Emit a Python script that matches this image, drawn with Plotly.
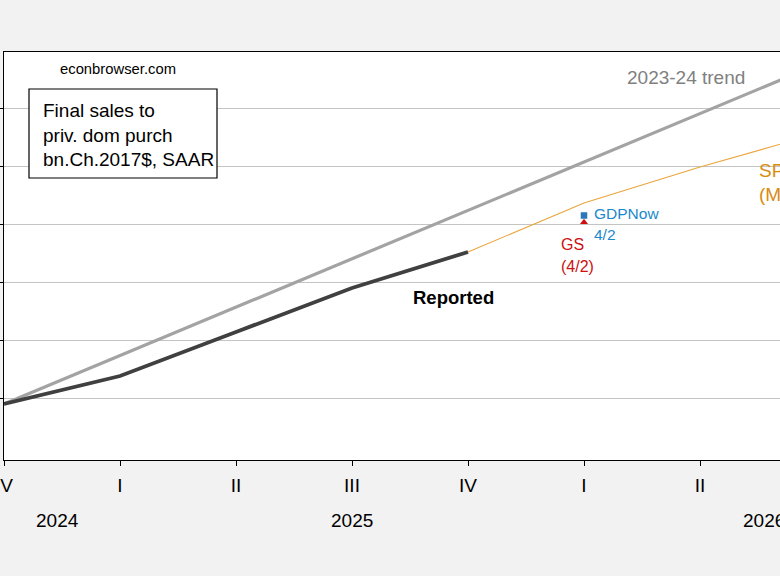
import plotly.graph_objects as go

# ---- data (bn. Ch.2017$, SAAR) ----
quarters = ["2024Q4", "2025Q1", "2025Q2", "2025Q3", "2025Q4", "2026Q1", "2026Q2", "2026Q3"]
tick_labels = ["IV", "I", "II", "III", "IV", "I", "II", "III"]
year_labels = ["2024", "2025", "2026"]
year_label_pos = [0.457, 3.0, 6.55]

reported_q = ["2024Q4", "2025Q1", "2025Q2", "2025Q3", "2025Q4"]
reported = [19790.5, 19838.8, 19914.7, 19990.5, 20052.6]

trend_q = quarters
trend = [19790.5, 19874.0, 19957.4, 20040.9, 20124.3, 20207.8, 20291.2, 20374.7]

spf_q = ["2025Q4", "2026Q1", "2026Q2", "2026Q3"]
spf = [20052.6, 20137.1, 20199.1, 20256.0]

gdpnow_q = ["2026Q1"]
gdpnow = [20115.5]
gs_q = ["2026Q1"]
gs = [20104.0]

y_grid = [19800, 19900, 20000, 20100, 20200, 20300]

idx = {q: i for i, q in enumerate(quarters)}
FONT = "Liberation Sans, Arial, sans-serif"

fig = go.Figure()
fig.add_trace(go.Scatter(x=[idx[q] for q in trend_q], y=trend, mode="lines",
                         line=dict(color="#a3a3a3", width=3.2), hoverinfo="skip"))
fig.add_trace(go.Scatter(x=[idx[q] for q in spf_q], y=spf, mode="lines",
                         line=dict(color="#eaa53c", width=1.1), hoverinfo="skip"))
fig.add_trace(go.Scatter(x=[idx[q] for q in reported_q], y=reported, mode="lines",
                         line=dict(color="#404040", width=3.8), hoverinfo="skip"))
fig.add_trace(go.Scatter(x=[idx[q] for q in gs_q], y=gs, mode="markers",
                         marker=dict(symbol="triangle-up", color="#cc1010", size=7), hoverinfo="skip"))
fig.add_trace(go.Scatter(x=[idx[q] for q in gdpnow_q], y=gdpnow, mode="markers",
                         marker=dict(symbol="square", color="#2a78b8", size=6.5), hoverinfo="skip"))

W, H = 780, 576
L, R, T, B = 4, 0, 52, 116
pw, ph = W - L - R, H - T - B

def px(xp):
    return (xp - L) / pw

def py(yp):
    return (H - B - yp) / ph

x_max = (W - L) / 116.0

fig.update_layout(
    width=W, height=H,
    margin=dict(l=L, r=R, t=T, b=B, pad=0, autoexpand=False),
    paper_bgcolor="#f2f2f2", plot_bgcolor="#ffffff",
    showlegend=False,
    font=dict(family=FONT, color="#000000", size=19),
    xaxis=dict(range=[0, x_max], tickmode="array", tickvals=list(range(len(quarters))),
               ticktext=tick_labels, showgrid=False, zeroline=False, automargin=False,
               showline=True, linecolor="#000000", linewidth=1.3, mirror=True,
               ticks="outside", ticklen=5, tickcolor="#000000", tickwidth=1.2,
               tickfont=dict(family=FONT, size=19, color="#000000"),
               ticklabelstandoff=3, ticklabeloverflow="allow"),
    yaxis=dict(range=[19693.97, 20397.41], tickmode="array", tickvals=y_grid,
               showticklabels=False, showgrid=True, gridcolor="#c4c4c4", gridwidth=1,
               zeroline=False, showline=True, linecolor="#000000", linewidth=1.3,
               automargin=False,
               ticks="outside", ticklen=4, tickcolor="#000000", tickwidth=1.2),
)

# text box
fig.add_shape(type="rect", xref="paper", yref="paper",
              x0=px(29), x1=px(217), y0=py(178), y1=py(89),
              line=dict(color="#000000", width=1.2), fillcolor="#ffffff", layer="above")

ann = []
def add_text(text, x, y, size, color, xanchor="left", bold=False):
    t = f"<b>{text}</b>" if bold else text
    ann.append(dict(text=t, xref="paper", yref="paper", x=px(x), y=py(y),
                    xanchor=xanchor, yanchor="middle", showarrow=False,
                    font=dict(family=FONT, size=size, color=color)))

add_text("econbrowser.com", 58, 69, 14.8, "#000000")
add_text("Final sales to", 41, 110, 19, "#000000")
add_text("priv. dom purch", 41, 135, 19, "#000000")
add_text("bn.Ch.2017$, SAAR", 41, 159, 19, "#000000")
add_text("2023-24 trend", 625, 77, 19, "#808080")
add_text("Reported", 453, 297, 18.5, "#000000", xanchor="center", bold=True)
add_text("GDPNow", 592, 213, 15.5, "#1a88cc")
add_text("4/2", 592, 234, 15.5, "#1a88cc")
add_text("GS", 559, 244, 16, "#cc1010")
add_text("(4/2)", 559, 266, 16, "#cc1010")
add_text("SPF", 757, 170, 19, "#d88c10")
add_text("(Mar)", 757, 194, 19, "#d88c10")

for lab, pos in zip(year_labels, year_label_pos):
    ann.append(dict(text=lab, xref="x", yref="paper", x=pos, y=py(520),
                    xanchor="center", yanchor="middle", showarrow=False,
                    font=dict(family=FONT, size=19, color="#000000")))

fig.update_layout(annotations=ann)
fig.write_html("out.html", config={"displayModeBar": False},
               post_script="document.body.style.margin='0';document.body.style.overflow='hidden';")
